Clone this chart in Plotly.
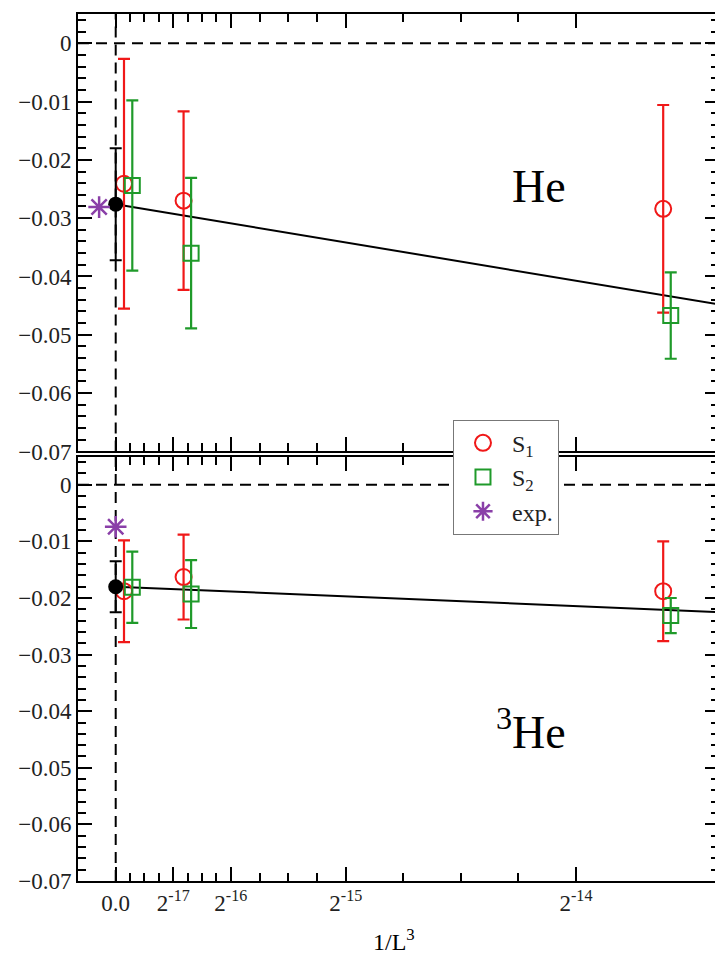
import plotly.graph_objects as go

U = 2.0 ** -17  # x unit

# ---------------- data ----------------
# He (upper panel)
he_s1_x = [1.1e-6, 9.0e-6, 7.26e-5]
he_s1_y = [-0.0241, -0.0270, -0.0284]
he_s1_err = [0.0214, 0.0153, 0.0178]
he_s2_x = [2.2e-6, 1.0e-5, 7.36e-5]
he_s2_y = [-0.0244, -0.0360, -0.0467]
he_s2_err = [0.0146, 0.0129, 0.0074]
he_extrap_x = [0.0]
he_extrap_y = [-0.0276]
he_extrap_err = [0.0096]
he_exp_x = [-2.2e-6]
he_exp_y = [-0.0281]
he_fit_x = [0.0, 8.0e-5]
he_fit_y = [-0.0276, -0.0448]

# 3He (lower panel)
he3_s1_x = [1.1e-6, 9.0e-6, 7.26e-5]
he3_s1_y = [-0.0188, -0.0163, -0.0188]
he3_s1_err = [0.0090, 0.0075, 0.0088]
he3_s2_x = [2.2e-6, 1.0e-5, 7.36e-5]
he3_s2_y = [-0.0181, -0.0193, -0.0231]
he3_s2_err = [0.0063, 0.0060, 0.0031]
he3_extrap_x = [0.0]
he3_extrap_y = [-0.0180]
he3_extrap_err = [0.0045]
he3_exp_x = [0.0]
he3_exp_y = [-0.0074]
he3_fit_x = [0.0, 8.0e-5]
he3_fit_y = [-0.0180, -0.0225]

# ticks
x_tick_vals = [0.0, 2.0 ** -17, 2.0 ** -16, 2.0 ** -15, 2.0 ** -14]
x_tick_text = ["0.0", "2<sup>-17</sup>", "2<sup>-16</sup>", "2<sup>-15</sup>", "2<sup>-14</sup>"]
x_minor_units = [0.25, 0.5, 0.75, 1.25, 1.5, 1.75, 2.5, 3.0, 3.5, 5.0, 6.0, 7.0]
y_tick_vals = [0.0, -0.01, -0.02, -0.03, -0.04, -0.05, -0.06, -0.07]
y_tick_text = ["0", "\u22120.01", "\u22120.02", "\u22120.03", "\u22120.04",
               "\u22120.05", "\u22120.06", "\u22120.07"]

RED = "#f01818"
GREEN = "#1f9a2a"
PURPLE = "#8a3fa8"
FONT = "Liberation Serif"

fig = go.Figure()


def add_panel(xa, ya, s1x, s1y, s1e, s2x, s2y, s2e, ex, ey, ee, px, py, fx, fy, show):
    fig.add_trace(go.Scatter(x=fx, y=fy, mode="lines", line=dict(color="black", width=2),
                             xaxis=xa, yaxis=ya, showlegend=False, hoverinfo="skip"))
    fig.add_trace(go.Scatter(x=s1x, y=s1y, mode="markers", name="S<sub>1</sub>",
                             marker=dict(symbol="circle-open", size=16, color=RED, line=dict(width=2, color=RED)),
                             error_y=dict(type="data", array=s1e, color=RED, thickness=2.2, width=6),
                             xaxis=xa, yaxis=ya, showlegend=show, legendrank=1))
    fig.add_trace(go.Scatter(x=s2x, y=s2y, mode="markers", name="S<sub>2</sub>",
                             marker=dict(symbol="square-open", size=15, color=GREEN, line=dict(width=2, color=GREEN)),
                             error_y=dict(type="data", array=s2e, color=GREEN, thickness=2.2, width=6),
                             xaxis=xa, yaxis=ya, showlegend=show, legendrank=2))
    fig.add_trace(go.Scatter(x=ex, y=ey, mode="markers",
                             marker=dict(symbol="circle", size=15, color="black"),
                             error_y=dict(type="data", array=ee, color="black", thickness=2, width=6),
                             xaxis=xa, yaxis=ya, showlegend=False))
    fig.add_trace(go.Scatter(x=px, y=py, mode="markers", name="exp.",
                             marker=dict(symbol="asterisk-open", size=18, color=PURPLE, line=dict(width=2.5, color=PURPLE)),
                             xaxis=xa, yaxis=ya, showlegend=show, legendrank=3))


add_panel("x", "y", he_s1_x, he_s1_y, he_s1_err, he_s2_x, he_s2_y, he_s2_err,
          he_extrap_x, he_extrap_y, he_extrap_err, he_exp_x, he_exp_y, he_fit_x, he_fit_y, True)
add_panel("x2", "y2", he3_s1_x, he3_s1_y, he3_s1_err, he3_s2_x, he3_s2_y, he3_s2_err,
          he3_extrap_x, he3_extrap_y, he3_extrap_err, he3_exp_x, he3_exp_y, he3_fit_x, he3_fit_y, False)

# dashed zero lines
dash = "11px,7px"
for xr, yr in (("x", "y"), ("x2", "y2")):
    fig.add_shape(type="line", xref=f"{xr} domain", yref=yr, x0=0, x1=1, y0=0, y1=0,
                  line=dict(color="black", width=2, dash=dash), layer="below")
    fig.add_shape(type="line", xref=xr, yref=f"{yr} domain", x0=0, x1=0, y0=0, y1=1,
                  line=dict(color="black", width=2, dash=dash), layer="below")

common_x = dict(range=[-5e-6, 8e-5], tickmode="array", tickvals=x_tick_vals, ticktext=x_tick_text,
                ticks="inside", ticklen=14, tickwidth=2, tickcolor="black",
                minor=dict(tickvals=[u * U for u in x_minor_units], ticks="inside", ticklen=8,
                           tickwidth=2, tickcolor="black"),
                showline=True, linecolor="black", linewidth=2, mirror="allticks",
                showgrid=False, zeroline=False,
                tickfont=dict(family=FONT, size=23, color="#222222"))
common_y = dict(range=[-0.07, 0.005], tickmode="array", tickvals=y_tick_vals, ticktext=y_tick_text,
                ticks="inside", ticklen=14, tickwidth=2, tickcolor="black",
                minor=dict(tick0=0, dtick=0.002, ticks="inside", ticklen=8, tickwidth=2, tickcolor="black"),
                showline=True, linecolor="black", linewidth=2, mirror="allticks",
                showgrid=False, zeroline=False,
                tickfont=dict(family=FONT, size=23, color="#222222"))

# the page body has an 8px margin; size the figure so the plot lands where the reference has it
fig.update_layout(
    width=715, height=951,
    margin=dict(l=70, r=2, t=6, b=78),
    paper_bgcolor="white", plot_bgcolor="white",
    xaxis=dict(common_x, domain=[0, 1], anchor="y", showticklabels=False),
    yaxis=dict(common_y, domain=[0.4954, 1.0], anchor="x"),
    xaxis2=dict(common_x, domain=[0, 1], anchor="y2", matches="x"),
    yaxis2=dict(common_y, domain=[0.0, 0.4896], anchor="x2"),
    showlegend=True,
    legend=dict(x=0.585, y=0.532, xanchor="left", yanchor="top",
                bgcolor="white", bordercolor="#777777", borderwidth=1,
                font=dict(family=FONT, size=24, color="#222222"),
                itemwidth=48, tracegroupgap=0),
    annotations=[
        dict(text="He", x=0.7185, y=0.8005, xref="paper", yref="paper", showarrow=False,
             font=dict(family=FONT, size=46, color="black"), xanchor="center", yanchor="middle"),
        dict(text="<sup>3</sup>He", x=0.706, y=0.175, xref="paper", yref="paper", showarrow=False,
             font=dict(family=FONT, size=46, color="black"), xanchor="center", yanchor="middle"),
        dict(text="1/L<sup>3</sup>", x=0.493, y=-0.068, xref="paper", yref="paper", showarrow=False,
             font=dict(family=FONT, size=24, color="black"), xanchor="center", yanchor="middle"),
    ],
)

fig.write_html("out.html")
